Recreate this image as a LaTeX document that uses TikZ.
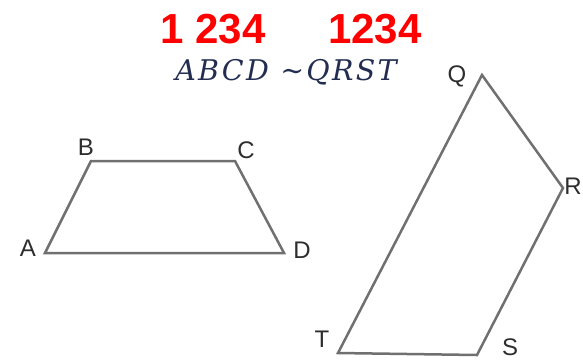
\documentclass[tikz,border=0pt]{standalone}
\usepackage{fontspec}
\setmainfont{Liberation Sans}
\newfontfamily\stmtfont[LetterSpace=8]{DejaVu Serif}
\usepackage{tikz}
\usetikzlibrary{positioning}

\definecolor{edgegray}{RGB}{112,112,112}
\definecolor{labelgray}{RGB}{45,45,45}
\definecolor{stmtblue}{RGB}{35,45,80}

\tikzset{
  edge/.style={edgegray, line width=2.5pt, line join=miter},
  vlabel/.style={text=labelgray, font=\fontsize{24}{26}\selectfont, inner sep=0pt},
  numtag/.style={red, font=\fontsize{42}{44}\selectfont\bfseries, inner sep=0pt},
  stmt/.style={text=stmtblue, font=\stmtfont\itshape\fontsize{28.5}{30}\selectfont, inner sep=0pt}
}

\begin{document}
\begin{tikzpicture}[x=1pt,y=-1pt]
\useasboundingbox (0,0) rectangle (583,362);

% Handwritten numbering
\node[numtag] (numL) at (213,29) {1 234};
\node[numtag] (numR) at (375,29) {1234};

% Similarity statement
\node[stmt] (simtext) at (286,72) {ABCD ∼QRST};

% Trapezoid ABCD
\coordinate (A) at (45,253);
\coordinate (B) at (91,161);
\coordinate (C) at (235,161);
\coordinate (D) at (284,253);
\draw[edge] (A) -- (B) -- (C) -- (D) -- cycle;
\node[vlabel] (labA) at (28,248) {A};
\node[vlabel] (labB) at (86,147) {B};
\node[vlabel] (labC) at (246,150) {C};
\node[vlabel] (labD) at (302,250) {D};

% Quadrilateral QRST
\coordinate (Q) at (482,75);
\coordinate (R) at (563,188);
\coordinate (S) at (477,355);
\coordinate (T) at (338,353);
\draw[edge] (Q) -- (R) -- (S) -- (T) -- cycle;
\node[vlabel] (labQ) at (457,76) {Q};
\node[vlabel] (labR) at (573,186) {R};
\node[vlabel] (labS) at (510,347) {S};
\node[vlabel] (labT) at (322,339) {T};
\end{tikzpicture}
\end{document}
